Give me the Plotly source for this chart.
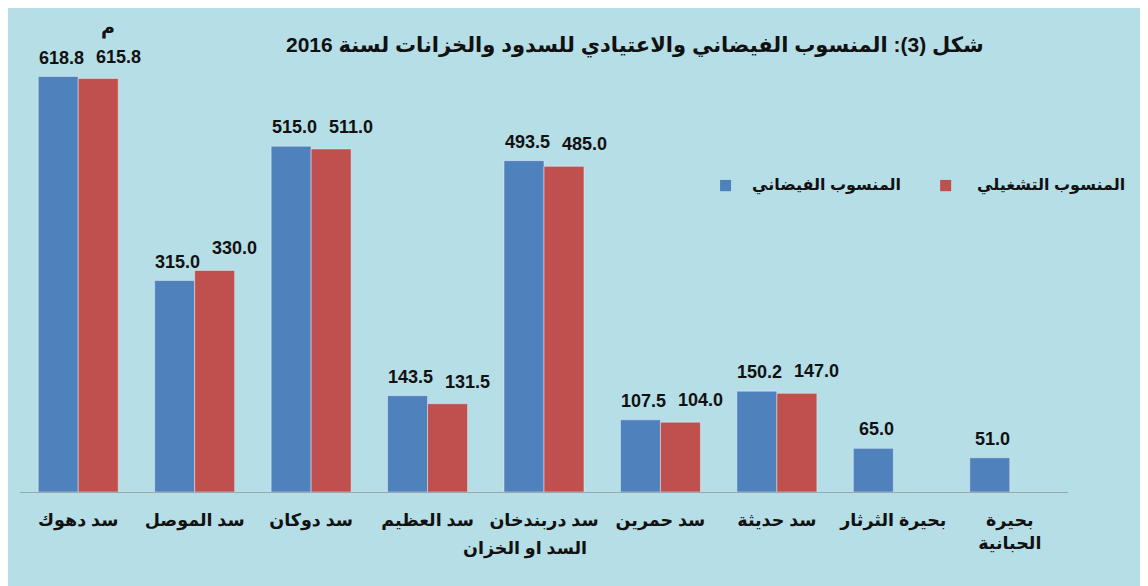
import plotly.graph_objects as go

categories = ["سد دهوك", "سد الموصل", "سد دوكان", "سد العظيم", "سد دربندخان",
              "سد حمرين", "سد حديثة", "بحيرة الثرثار", "بحيرة<br>الحبانية"]
flood_level = [618.8, 315.0, 515.0, 143.5, 493.5, 107.5, 150.2, 65.0, 51.0]
operating_level = [615.8, 330.0, 511.0, 131.5, 485.0, 104.0, 147.0, None, None]
series_names = ["المنسوب الفيضاني", "المنسوب التشغيلي"]
title_text = "شكل (3): المنسوب الفيضاني والاعتيادي للسدود والخزانات لسنة 2016"
x_title = "السد او الخزان"
unit_label = "م"

BLUE = "#4f81bd"
RED = "#c0504d"
FONT = "Liberation Sans, DejaVu Sans, Arial, sans-serif"

fig = go.Figure()
for name, vals, col in [(series_names[0], flood_level, BLUE), (series_names[1], operating_level, RED)]:
    fig.add_trace(go.Bar(x=categories, y=vals, name=name, marker_color=col))

# value labels (placed by data coordinates, offset like the reference)
for vals, dx, dy in [(flood_level, -17, 7), (operating_level, 40, 10)]:
    for c, v in zip(categories, vals):
        if v is None:
            continue
        fig.add_annotation(x=c, y=v, text=f"{v:.1f}", showarrow=False,
                           xanchor="center", yanchor="bottom", xshift=dx, yshift=dy,
                           font=dict(family=FONT, size=18, color="#111111", weight="bold"))

fig.update_layout(
    width=1148, height=586,
    margin=dict(l=12, r=88, t=14, b=102),
    paper_bgcolor="#b6dee7", plot_bgcolor="rgba(0,0,0,0)",
    barmode="group", bargap=0.313, bargroupgap=0,
    showlegend=False,
    font=dict(family=FONT, color="#111111"),
)
fig.update_xaxes(
    showline=True, linecolor="#9aa8ad", linewidth=1,
    ticks="outside", ticklen=12, tickcolor="rgba(0,0,0,0)",
    tickfont=dict(size=17.5, weight="bold", color="#111111"),
)
fig.update_yaxes(range=[0, 700], visible=False)

# axis title
fig.add_annotation(xref="paper", yref="paper", x=0.482, y=-0.121, text=x_title,
                   showarrow=False, xanchor="center", yanchor="middle",
                   font=dict(size=17.5, weight="bold", color="#111111"))
# title
fig.add_annotation(xref="paper", yref="paper", x=0.587, y=0.951, text=title_text,
                   showarrow=False, xanchor="center", yanchor="middle",
                   font=dict(size=21, weight="bold", color="#111111"))
# unit
fig.add_annotation(xref="paper", yref="paper", x=0.084, y=0.987, text=unit_label,
                   showarrow=False, xanchor="center", yanchor="middle",
                   font=dict(size=19, weight="bold", color="#111111"))

# custom right-to-left legend
legend_items = [(series_names[0], BLUE, 0.668, 0.6966), (series_names[1], RED, 0.878, 0.911)]
for name, col, xs, xt in legend_items:
    fig.add_shape(type="rect", xref="paper", yref="paper",
                  x0=xs, x1=xs + 0.0105, y0=0.640, y1=0.664,
                  fillcolor=col, line=dict(width=0))
    fig.add_annotation(xref="paper", yref="paper", x=xt, y=0.652, text=name,
                       showarrow=False, xanchor="left", yanchor="middle",
                       font=dict(size=16, weight="bold", color="#111111"))

# outer frame
fig.add_shape(type="rect", xref="paper", yref="paper", x0=-0.0124, x1=1.2,
              y0=-0.3, y1=1.034, line=dict(color="#8a8f92", width=2), layer="below")

fig.write_html("out.html")
